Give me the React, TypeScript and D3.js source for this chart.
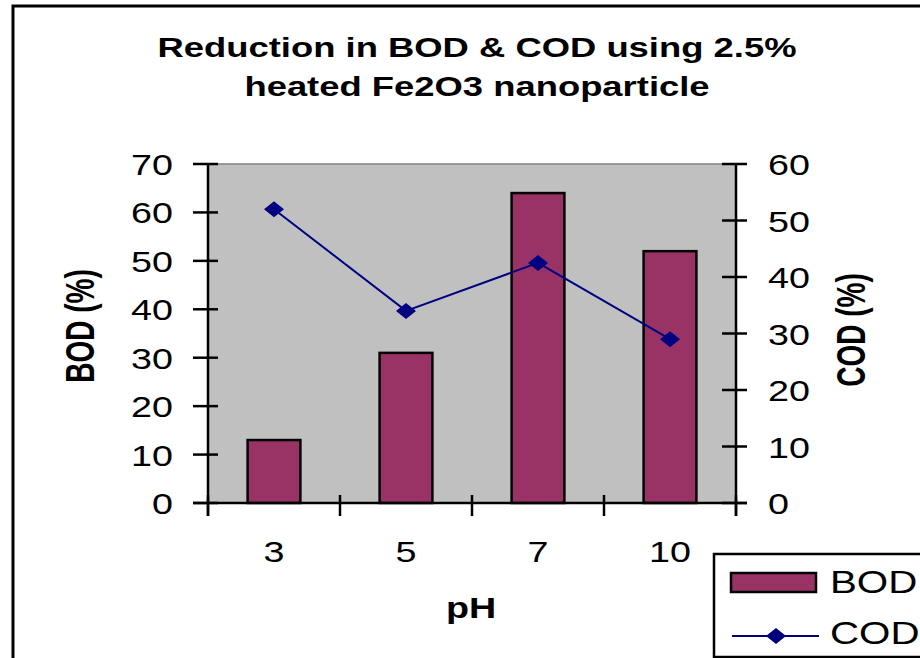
import React from "react";
import * as d3 from "d3";

const categories = ["3", "5", "7", "10"];
const bodValues = [13, 31, 64, 52];
const codValues = [52, 34, 42.5, 29];
const leftTicks = [0, 10, 20, 30, 40, 50, 60, 70];
const rightTicks = [0, 10, 20, 30, 40, 50, 60];

const W = 920;
const H = 658;
const plot = { left: 208, right: 736, top: 164, bottom: 503 };
const font = "Liberation Sans, Arial, sans-serif";
const SX = 1.3;

function T(props: {
  x: number;
  y: number;
  size: number;
  anchor?: string;
  bold?: boolean;
  rotate?: boolean;
  sx?: number;
  children: React.ReactNode;
}) {
  const s = props.sx ?? SX;
  const tr = props.rotate
    ? `translate(${props.x},${props.y}) scale(${s},1) rotate(-90)`
    : `translate(${props.x},${props.y}) scale(${s},1)`;
  return (
    <text
      transform={tr}
      textAnchor={props.anchor || "start"}
      fontSize={props.size}
      fontWeight={props.bold ? "bold" : "normal"}
    >
      {props.children}
    </text>
  );
}

export default function App() {
  const x = d3.scaleBand().domain(categories).range([plot.left, plot.right]).paddingInner(0).paddingOuter(0);
  const yL = d3.scaleLinear().domain([0, 70]).range([plot.bottom, plot.top]);
  const yR = d3.scaleLinear().domain([0, 60]).range([plot.bottom, plot.top]);
  const barW = x.bandwidth() * 0.4;
  const cxOf = (i: number) => (x(categories[i]) as number) + x.bandwidth() / 2;
  const line = d3
    .line<number>()
    .x((_, i) => cxOf(i))
    .y((d) => yR(d));
  const boundaries = [...categories.map((c) => x(c) as number), plot.right];
  const diamond = (cx: number, cy: number, rx = 10, ry = 8) =>
    `M${cx},${cy - ry}L${cx + rx},${cy}L${cx},${cy + ry}L${cx - rx},${cy}Z`;

  return (
    <svg width={W} height={H} style={{ position: "absolute", left: 0, top: 0, display: "block" }} fontFamily={font}>
      <rect x={0} y={0} width={W} height={H} fill="#fff" />
      <rect x={13} y={6} width={W + 20} height={H + 20} fill="none" stroke="#000" strokeWidth={3} />
      <T x={477} y={57} size={28} anchor="middle" bold>
        Reduction in BOD &amp; COD using 2.5%
      </T>
      <T x={477} y={96} size={28} anchor="middle" bold>
        heated Fe2O3 nanoparticle
      </T>

      <rect x={plot.left} y={plot.top} width={plot.right - plot.left} height={plot.bottom - plot.top} fill="#c0c0c0" />
      <line x1={plot.left} x2={plot.right} y1={plot.top} y2={plot.top} stroke="#808080" strokeWidth={1.5} />

      {bodValues.map((v, i) => (
        <rect
          key={i}
          x={cxOf(i) - barW / 2}
          y={yL(v)}
          width={barW}
          height={plot.bottom - yL(v)}
          fill="#993366"
          stroke="#000"
          strokeWidth={2.5}
        />
      ))}

      {/* left axis */}
      <line x1={plot.left} x2={plot.left} y1={plot.top} y2={plot.bottom + 13} stroke="#000" strokeWidth={2.5} />
      {leftTicks.map((t) => (
        <g key={t}>
          <line x1={plot.left - 15} x2={plot.left + 10} y1={yL(t)} y2={yL(t)} stroke="#000" strokeWidth={2.5} />
          <T x={173} y={yL(t) + 11} size={29} anchor="end">
            {t}
          </T>
        </g>
      ))}
      {/* right axis */}
      <line x1={plot.right} x2={plot.right} y1={plot.top} y2={plot.bottom + 13} stroke="#000" strokeWidth={2.5} />
      {rightTicks.map((t) => (
        <g key={t}>
          <line x1={plot.right - 14} x2={plot.right + 11} y1={yR(t)} y2={yR(t)} stroke="#000" strokeWidth={2.5} />
          <T x={768} y={yR(t) + 11} size={29} anchor="start">
            {t}
          </T>
        </g>
      ))}
      {/* bottom axis */}
      <line x1={plot.left - 15} x2={plot.right + 11} y1={plot.bottom} y2={plot.bottom} stroke="#000" strokeWidth={2.5} />
      {boundaries.map((b, i) => (
        <line key={i} x1={b} x2={b} y1={plot.bottom - 8} y2={plot.bottom + 13} stroke="#000" strokeWidth={2.5} />
      ))}
      {categories.map((c, i) => (
        <T key={c} x={cxOf(i)} y={562} size={29} anchor="middle">
          {c}
        </T>
      ))}

      <path d={line(codValues) || ""} fill="none" stroke="#000080" strokeWidth={2} />
      {codValues.map((v, i) => (
        <path key={i} d={diamond(cxOf(i), yR(v))} fill="#000080" />
      ))}

      <T x={94} y={326} size={28} anchor="middle" bold rotate sx={1.45}>
        BOD (%)
      </T>
      <T x={865} y={330} size={28} anchor="middle" bold rotate sx={1.45}>
        COD (%)
      </T>
      <T x={471} y={618} size={29} anchor="middle" bold>
        pH
      </T>

      {/* legend */}
      <rect x={714} y={554} width={W} height={103} fill="#fff" stroke="#000" strokeWidth={2.5} />
      <rect x={731} y={573} width={85} height={19} fill="#993366" stroke="#000" strokeWidth={2.5} />
      <T x={830} y={593} size={31}>BOD</T>
      <line x1={732} x2={819} y1={636} y2={636} stroke="#000080" strokeWidth={2} />
      <path d={diamond(776, 636, 10, 8)} fill="#000080" />
      <T x={830} y={644} size={31}>COD</T>
    </svg>
  );
}
